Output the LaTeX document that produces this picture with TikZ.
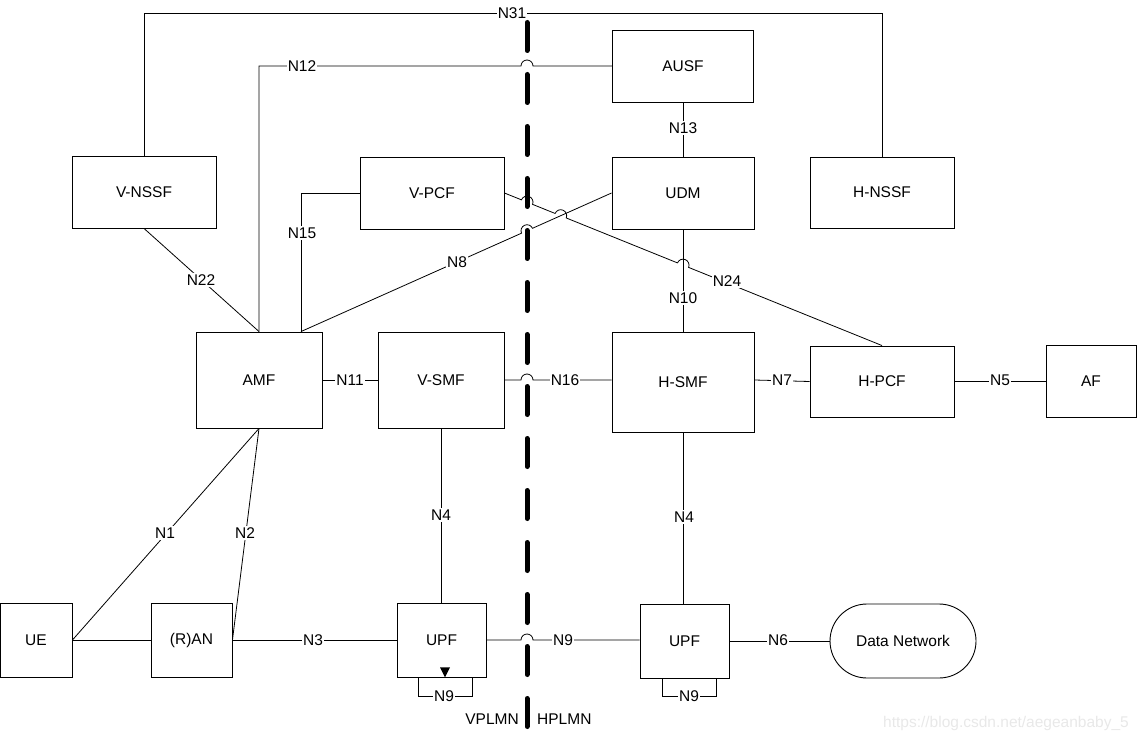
\documentclass[tikz,border=0pt]{standalone}
\usepackage{fontspec}
\setmainfont{Liberation Sans}
\usetikzlibrary{calc}
\begin{document}
\begin{tikzpicture}[x=1pt,y=-1pt,
  txt/.style={font=\fontsize{15.5}{18}\selectfont},
  box/.style={draw, line width=0.9pt, fill=white, inner sep=0pt, txt},
  lbl/.style={fill=white, inner sep=1.2pt, txt},
  conn/.style={line width=0.8pt},
  border/.style={line width=5pt, line cap=round, dash pattern=on 28pt off 24pt}]
\useasboundingbox (0,0) rectangle (1137,743);
\def\hr{6pt}
% boxes
\node[box, minimum width=141pt, minimum height=72pt] (ausf) at (683,66) {AUSF};
\node[box, minimum width=144pt, minimum height=72pt] (vnssf) at (144,192) {V-NSSF};
\node[box, minimum width=144pt, minimum height=72pt] (vpcf) at (432,193) {V-PCF};
\node[box, minimum width=142pt, minimum height=72pt] (udm) at (683,193) {UDM};
\node[box, minimum width=144pt, minimum height=71pt] (hnssf) at (882,192.5) {H-NSSF};
\node[box, minimum width=126pt, minimum height=96pt] (amf) at (259,380) {AMF};
\node[box, minimum width=126pt, minimum height=96pt] (vsmf) at (441,380) {V-SMF};
\node[box, minimum width=142pt, minimum height=100pt] (hsmf) at (683,382) {H-SMF};
\node[box, minimum width=144pt, minimum height=71pt] (hpcf) at (882,381.5) {H-PCF};
\node[box, minimum width=90pt, minimum height=72pt] (af) at (1091,381) {AF};
\node[box, minimum width=72pt, minimum height=74pt] (ue) at (36,640) {UE};
\node[box, minimum width=81pt, minimum height=74pt] (ran) at (191.5,640) {(R)AN};
\node[box, minimum width=89pt, minimum height=74pt] (upfv) at (441.5,640) {UPF};
\node[box, minimum width=89pt, minimum height=74pt] (upfh) at (684.5,641) {UPF};
\node[box, minimum width=146pt, minimum height=74pt, rounded corners=37pt] (dn) at (903,641) {Data Network};
% helper coordinates
\coordinate (ytop) at (0,13);
\coordinate (dtop) at (527,0);
\coordinate (dbot) at (527,743);
\coordinate (amfa) at ($(amf.north)+(42,0)$);
\coordinate (vpcfE) at (vpcf.east);
\coordinate (hpcfN) at (hpcf.north);
\coordinate (udmW) at (udm.west);
\coordinate (udmS) at (udm.south);
\coordinate (hsmfN) at (udm.south |- hsmf.north);
\coordinate (n12c) at (amf.north |- ausf.west);
\coordinate (x24a) at (intersection of vpcfE--hpcfN and dtop--dbot);
\coordinate (x24b) at (intersection of vpcfE--hpcfN and amfa--udmW);
\coordinate (x24c) at (intersection of vpcfE--hpcfN and udmS--hsmfN);
\coordinate (x8) at (intersection of amfa--udmW and dtop--dbot);
% connectors
\draw[conn] (vnssf.north) -- (vnssf.north |- ytop) -- (hnssf.north |- ytop) -- (hnssf.north);
\draw[conn] (amf.north) -- (n12c) -- ($(dtop |- n12c)+(-\hr,0)$) arc[start angle=180, end angle=0, radius=\hr] -- (ausf.west);
\draw[conn] (ausf.south) -- (ausf.south |- udm.north);
\draw[conn] (vnssf.south) -- (amf.north);
\draw[conn] (amfa) |- (vpcf.west);
\draw[conn] let \p1=($(udmW)-(amfa)$), \n1={atan2(\y1,\x1)} in
  (amfa) -- ($(x8)!\hr!(amfa)$) arc[start angle=\n1+180, end angle=\n1, radius=\hr] -- (udmW);
\draw[conn] let \p1=($(hpcfN)-(vpcfE)$), \n1={atan2(\y1,\x1)} in
  (vpcfE) -- ($(x24a)!\hr!(vpcfE)$) arc[start angle=\n1+180, end angle=\n1, radius=\hr]
  -- ($(x24b)!\hr!(vpcfE)$) arc[start angle=\n1+180, end angle=\n1, radius=\hr]
  -- ($(x24c)!\hr!(vpcfE)$) arc[start angle=\n1+180, end angle=\n1, radius=\hr] -- (hpcfN);
\draw[conn] (udmS) -- (hsmfN);
\draw[conn] (amf.east) -- (amf.east -| vsmf.west);
\draw[conn] (vsmf.east) -- ($(dtop |- vsmf.east)+(-\hr,0)$) arc[start angle=180, end angle=0, radius=\hr] -- (vsmf.east -| hsmf.west);
\draw[conn] (hsmf.west -| hsmf.east) ++(0,-2) -- (hpcf.west);
\draw[conn] (hpcf.east) -- (hpcf.east -| af.west);
\draw[conn] (vsmf.south) -- (vsmf.south |- upfv.north);
\draw[conn] (hsmf.south) -- (hsmf.south |- upfh.north);
\draw[conn] (amf.south) -- (ue.east);
\draw[conn] (amf.south) -- (ran.east);
\draw[conn] (ue.east) -- (ran.west);
\draw[conn] (ran.east) -- (upfv.west);
\draw[conn] (upfv.east) -- ($(dtop |- upfv.east)+(-\hr,0)$) arc[start angle=180, end angle=0, radius=\hr] -- (upfv.east -| upfh.west);
\draw[conn] (upfh.east) -- (upfh.east -| dn.west);
\draw[conn] ($(upfv.south)+(-23.5,0)$) -- ++(0,19) -- ++(54,0) -- ++(0,-19);
\draw[conn] ($(upfh.south)+(-22.5,0)$) -- ++(0,18) -- ++(54,0) -- ++(0,-18);
\fill ($(upfv.south)+(3.5,0)$) -- ++(-5,-10) -- ++(10,0) -- cycle;
% labels
\node[lbl] (l31) at (512,13) {N31};
\node[lbl] (l12) at (302,66) {N12};
\node[lbl] (l13) at (683,128) {N13};
\node[lbl] (l22) at (201,280) {N22};
\node[lbl] (l15) at (302,233) {N15};
\node[lbl] (l8) at (457,262) {N8};
\node[lbl] (l24) at (727,281) {N24};
\node[lbl] (l10) at (683,298) {N10};
\node[lbl] (l11) at (350,380) {N11};
\node[lbl] (l16) at (565,380) {N16};
\node[lbl] (l7) at (782,380) {N7};
\node[lbl] (l5) at (1000,380) {N5};
\node[lbl] (l4a) at (441,515) {N4};
\node[lbl] (l4b) at (684,517) {N4};
\node[lbl] (l1) at (165,533) {N1};
\node[lbl] (l2) at (245,533) {N2};
\node[lbl] (l3) at (313,640) {N3};
\node[lbl] (l9) at (563,640) {N9};
\node[lbl] (l6) at (778,640) {N6};
\node[lbl] (l9a) at (444,696) {N9};
\node[lbl] (l9b) at (689,696) {N9};
\node[txt, anchor=east, inner sep=0pt] (vpl) at (519,719) {VPLMN};
\node[txt, anchor=west, inner sep=0pt] (hpl) at (537,719) {HPLMN};
\node[txt, text=black!9, anchor=east, inner sep=0pt] (wm) at (1129,723) {https://blog.csdn.net/aegeanbaby\_5};
% border between networks
\draw[border] (527,22.5) -- (527,726.5);
\end{tikzpicture}
\end{document}
